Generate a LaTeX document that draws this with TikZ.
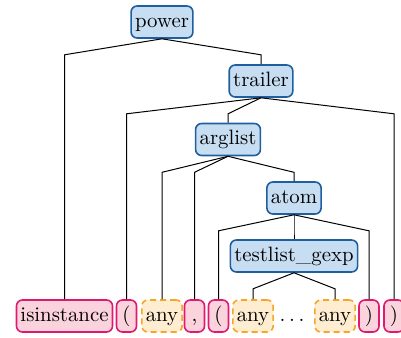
\documentclass[tikz,border=0pt]{standalone}
\usetikzlibrary{calc}
\definecolor{bfill}{HTML}{C6DDF2}
\definecolor{bdraw}{HTML}{1F5FA0}
\definecolor{pfill}{HTML}{FBD3DD}
\definecolor{pdraw}{HTML}{E0186F}
\definecolor{ofill}{HTML}{FEEDD0}
\definecolor{odraw}{HTML}{F5A623}
\newcommand\treeedge[2]{%
  \path (#1.south) ++(0,-8pt) coordinate (tmpb);
  \draw[edge] (#1.south) -- (tmpb -| #2.north) -- (#2.north);}
\begin{document}
\begin{tikzpicture}[x=0.5pt,y=-0.5pt,
  every node/.style={font=\fontsize{10.4}{12.5}\selectfont},
  box/.style={rounded corners=3pt,line width=0.8pt,inner xsep=2pt,inner ysep=3.5pt,
    text height=7pt,text depth=2pt,minimum width=10pt},
  inner/.style={box,draw=bdraw,fill=bfill},
  leaf/.style={box,draw=pdraw,fill=pfill},
  anyleaf/.style={box,draw=odraw,fill=ofill,dashed,dash pattern=on 3pt off 2pt},
  edge/.style={draw=black,line width=0.5pt}]
\useasboundingbox (0,0) rectangle (401,337);
\node[inner] (power) at (162,22) {power};
\node[inner] (trailer) at (261,81) {trailer};
\node[inner] (arglist) at (228,139.5) {arglist};
\node[inner] (atom) at (294,198) {atom};
\node[inner] (tgexp) at (294,256) {testlist\_gexp};
\node[leaf] (isinst) at (64.5,316) {isinstance};
\node[leaf] (lp1) at (126.5,316) {(};
\node[anyleaf] (any1) at (162,316) {any};
\node[leaf] (comma) at (194.5,316) {,};
\node[leaf] (lp2) at (218.5,316) {(};
\node[anyleaf] (any2) at (253,316) {any};
\node[box] (dots) at (292,316) {.\kern1.9pt.\kern1.9pt.};
\node[anyleaf] (any3) at (335,316) {any};
\node[leaf] (rp2) at (369,316) {)};
\node[leaf] (rp1) at (394,316) {)};
\treeedge{power}{isinst}
\treeedge{power}{trailer}
\treeedge{trailer}{lp1}
\treeedge{trailer}{arglist}
\treeedge{trailer}{rp1}
\treeedge{arglist}{any1}
\treeedge{arglist}{comma}
\treeedge{arglist}{atom}
\treeedge{atom}{lp2}
\treeedge{atom}{tgexp}
\treeedge{atom}{rp2}
\treeedge{tgexp}{any2}
\treeedge{tgexp}{any3}
\end{tikzpicture}
\end{document}
